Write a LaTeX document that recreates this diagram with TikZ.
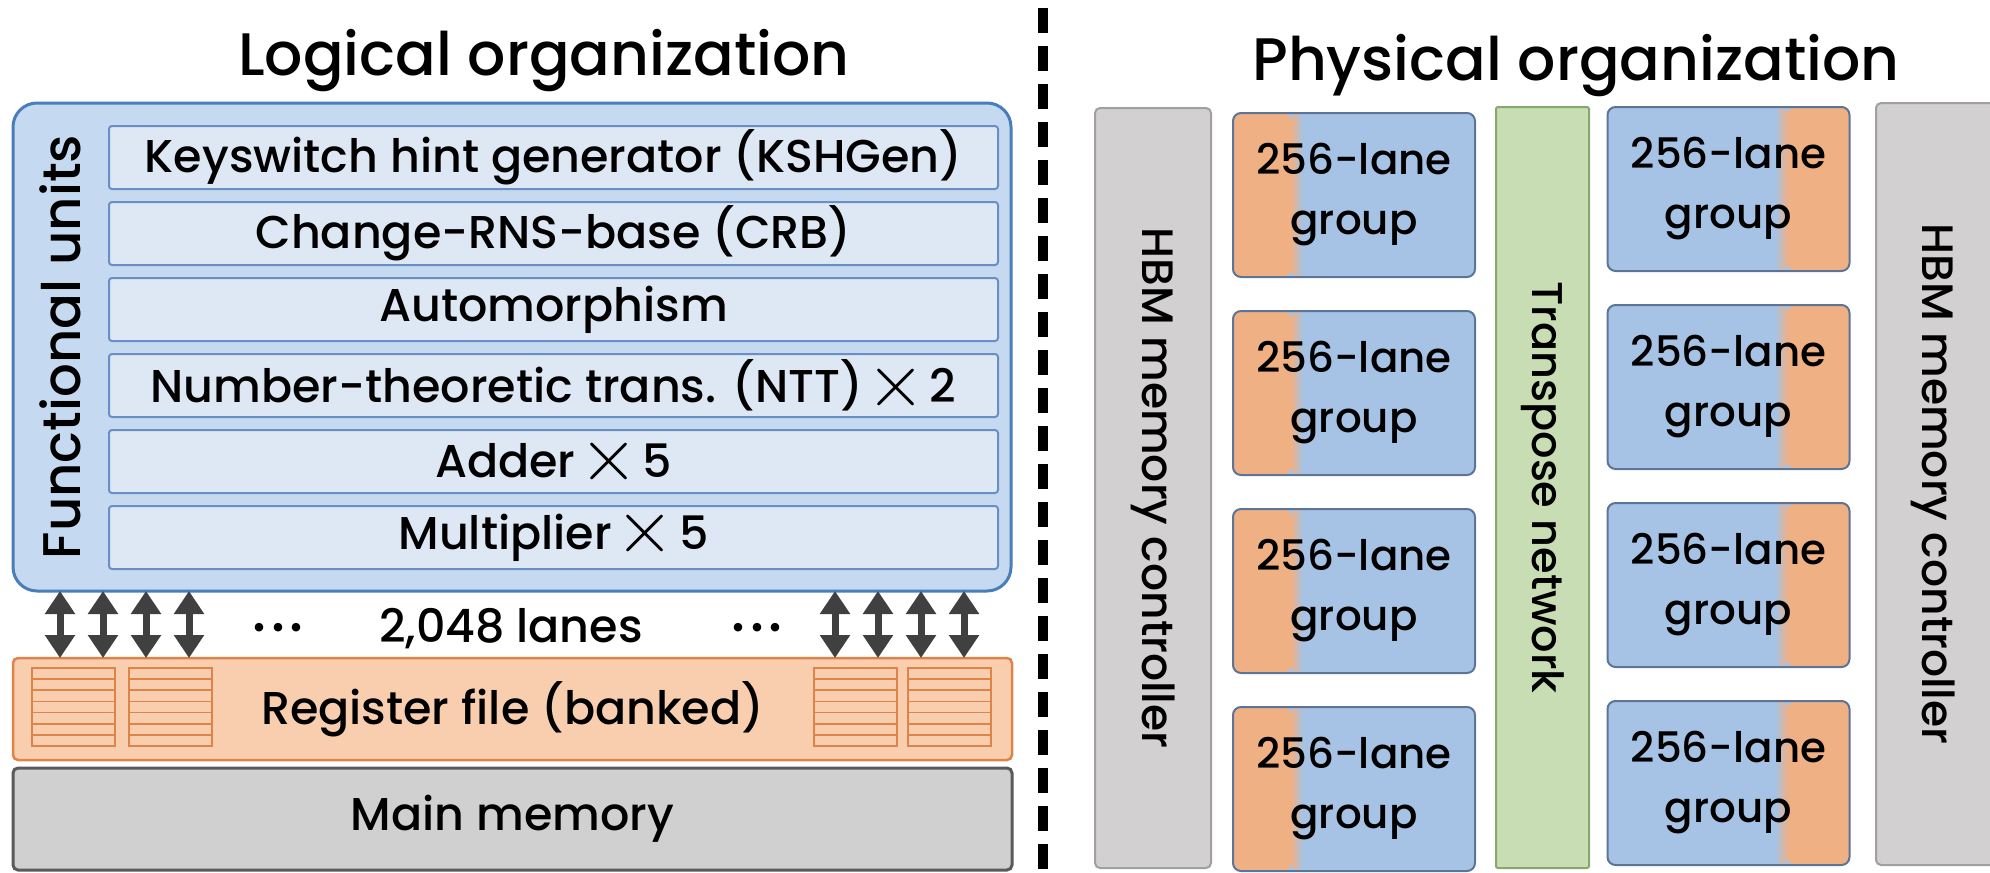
\documentclass[tikz,border=0pt]{standalone}
\usepackage{graphicx}
\usepackage{fontspec}
\setmainfont{Poppins}[UprightFont=* Medium]
\newfontfamily\lmfont{lmroman10-regular.otf}
\usetikzlibrary{arrows.meta,calc}
\definecolor{fuFill}{RGB}{197,217,240}
\definecolor{fuBorder}{RGB}{74,126,187}
\definecolor{rowFill}{RGB}{222,232,244}
\definecolor{rowBorder}{RGB}{106,143,196}
\definecolor{rfFill}{RGB}{249,206,175}
\definecolor{rfBorder}{RGB}{222,132,72}
\definecolor{mmFill}{RGB}{208,208,208}
\definecolor{mmBorder}{RGB}{90,90,90}
\definecolor{arrowGray}{RGB}{64,64,64}
\definecolor{laneBlue}{RGB}{166,195,229}
\definecolor{laneOrange}{RGB}{239,176,131}
\definecolor{laneBorder}{RGB}{94,116,151}
\definecolor{hbmFill}{RGB}{210,208,208}
\definecolor{hbmBorder}{RGB}{160,160,160}
\definecolor{tpFill}{RGB}{200,221,180}
\definecolor{tpBorder}{RGB}{134,168,112}
\newcommand\myTitleFont{\fontsize{60}{66}\selectfont}
\newcommand\myRowFont{\fontsize{46}{52}\selectfont}
\newcommand\myFUFont{\fontsize{53}{58}\selectfont}
\newcommand\myLaneFont{\fontsize{42}{60}\selectfont}
\newcommand\myHBMFont{\fontsize{44}{50}\selectfont}
\newcommand\myTPFont{\fontsize{43}{50}\selectfont}
\newcommand\mytimes{\raisebox{-3.5pt}{{\lmfont\fontsize{76}{76}\selectfont ×}}}
\begin{document}
\begin{tikzpicture}[x=1pt,y=-1pt,
  box/.style={draw, inner sep=0pt, outer sep=0pt},
  fuouter/.style={box, fill=fuFill, draw=fuBorder, line width=3pt, rounded corners=24pt},
  furow/.style={box, fill=rowFill, draw=rowBorder, line width=2pt, rounded corners=3pt,
    minimum width=889pt, minimum height=63pt, font=\myRowFont},
  rfbox/.style={box, fill=rfFill, draw=rfBorder, line width=2.5pt, rounded corners=5pt,
    minimum width=999pt, minimum height=102pt, font=\myRowFont},
  mmbox/.style={box, fill=mmFill, draw=mmBorder, line width=3pt, rounded corners=5pt,
    minimum width=999pt, minimum height=102pt, font=\myRowFont},
  bank/.style={box, fill=rfFill, draw=rfBorder, line width=2pt, minimum width=83pt, minimum height=78pt},
  lanearrow/.style={draw=arrowGray, line width=7pt,
    {Triangle[width=29pt,length=23pt]}-{Triangle[width=29pt,length=23pt]}},
  divider/.style={draw=black, line width=10pt, dash pattern=on 25pt off 13pt},
  lanegrp/.style={box, fill=laneBlue, draw=laneBorder, line width=2pt, rounded corners=8pt,
    minimum width=242pt, minimum height=164pt, align=center, font=\myLaneFont},
  lanegrpL/.style={lanegrp, path picture={
    \fill[laneOrange] (path picture bounding box.north west) rectangle ([xshift=58pt]path picture bounding box.south west);
    \shade[left color=laneOrange, right color=laneBlue] ([xshift=58pt]path picture bounding box.north west) rectangle ([xshift=70pt]path picture bounding box.south west);}},
  lanegrpR/.style={lanegrp, path picture={
    \fill[laneOrange] (path picture bounding box.north east) rectangle ([xshift=-62pt]path picture bounding box.south east);
    \shade[left color=laneBlue, right color=laneOrange] ([xshift=-74pt]path picture bounding box.north east) rectangle ([xshift=-62pt]path picture bounding box.south east);}},
  hbmbox/.style={box, fill=hbmFill, draw=hbmBorder, line width=2pt, rounded corners=5pt},
  tpbox/.style={box, fill=tpFill, draw=tpBorder, line width=2pt, rounded corners=2pt},
  vlabel/.style={rotate=-90, inner sep=0pt}
]
\useasboundingbox (0,0) rectangle (1990,873);

% ---------- Logical organization ----------
\node[anchor=base, font=\myTitleFont] (ltitle) at (544,75) {Logical organization};
\node[fuouter, minimum width=998pt, minimum height=488pt] (fu) at (512,347) {};
\node[rotate=90, font=\myFUFont, inner sep=0pt] (fulabel) at (60,347) {Functional units};
\node[furow] (r1) at (553.5,157.5) {Keyswitch hint generator (KSHGen)};
\node[furow] (r2) at (553.5,233.5) {Change-RNS-base (CRB)};
\node[furow] (r3) at (553.5,309.5) {Automorphism};
\node[furow] (r4) at (553.5,385.5) {Number-theoretic trans. (NTT)\kern4pt\mytimes\kern4pt 2};
\node[furow] (r5) at (553.5,461.5) {Adder\kern4pt\mytimes\kern4pt 5};
\node[furow] (r6) at (553.5,537.5) {Multiplier\kern4pt\mytimes\kern4pt 5};

\node[rfbox] (rf) at (512.5,709) {Register file (banked)};
\node[mmbox] (mm) at (512.5,819) {Main memory};

\node[bank] (b1) at (73.5,707) {};
\node[bank] (b2) at (170.5,707) {};
\node[bank] (b3) at (855.5,707) {};
\node[bank] (b4) at (949.5,707) {};
\foreach \b in {b1,b2,b3,b4}{
  \foreach \k in {1,...,6}{
    \draw[rfBorder, line width=1.8pt] ($(\b.north west)!\k/7!(\b.south west)$) -- ($(\b.north east)!\k/7!(\b.south east)$);
  }
}

\foreach \x in {60,103,146,189,835,878,921,964}{
  \draw[lanearrow] (fu.south -| \x,0) -- (rf.north -| \x,0);
}
\node[font=\myRowFont, anchor=base] (lanes) at (511,642) {2,048 lanes};
\node[font=\fontsize{58}{60}\selectfont, anchor=base] (dotsL) at (278,642) {\raisebox{0.18em}{.\kern5pt.\kern5pt.}};
\node[font=\fontsize{58}{60}\selectfont, anchor=base] (dotsR) at (757,642) {\raisebox{0.18em}{.\kern5pt.\kern5pt.}};

% ---------- divider ----------
\coordinate (dtop) at (1043,8);
\coordinate (dbot) at (1043,880);
\draw[divider] (dtop) -- (dbot);

% ---------- Physical organization ----------
\node[anchor=base, font=\myTitleFont] (ptitle) at (1576,80) {Physical organization};
\node[hbmbox, minimum width=116pt, minimum height=760pt] (hbmL) at (1153,488) {};
\node[vlabel, font=\myHBMFont] (hbmLtext) at (hbmL.center) {HBM memory controller};
\node[tpbox, minimum width=93pt, minimum height=761pt] (tp) at (1542.5,487.5) {};
\node[vlabel, font=\myTPFont] (tptext) at (tp.center) {Transpose network};
\node[hbmbox, minimum width=119pt, minimum height=762pt] (hbmR) at (1935.5,484) {};
\node[vlabel, font=\myHBMFont] (hbmRtext) at (1933,484) {HBM memory controller};

\foreach \i in {0,...,3}{
  \node[lanegrpL] (gl\i) at (1354,{195+198*\i}) {256-lane\\group};
  \node[lanegrpR] (gr\i) at (1728.5,{189+198*\i}) {256-lane\\group};
}
\end{tikzpicture}
\end{document}
